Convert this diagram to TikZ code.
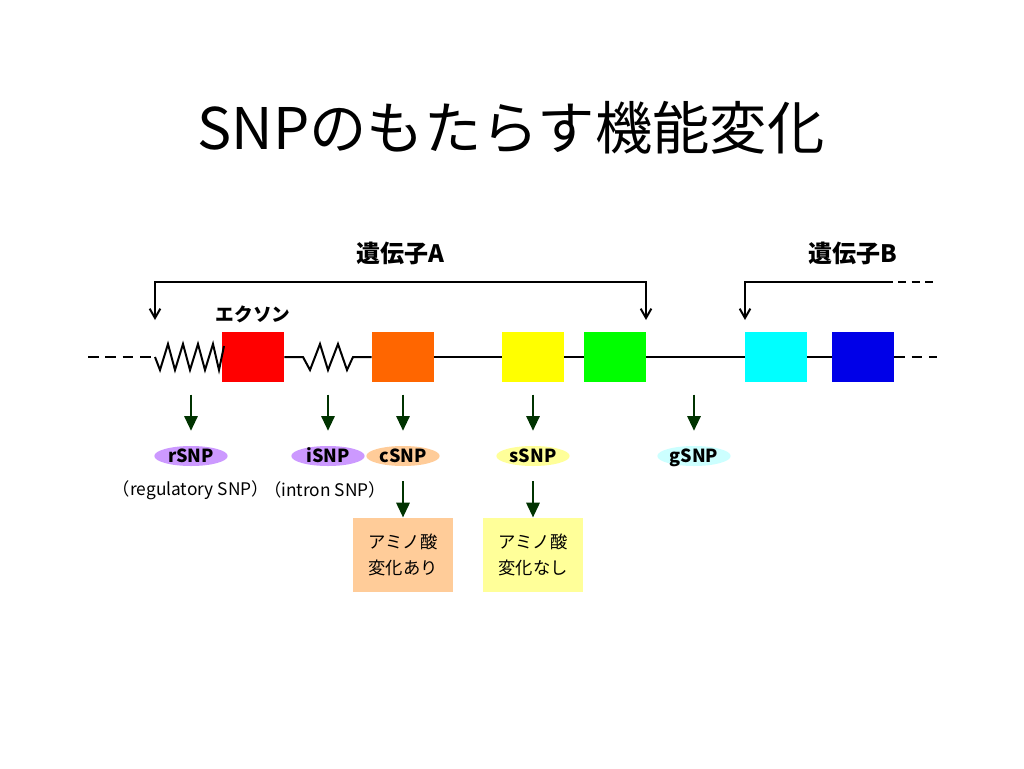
\documentclass[tikz,border=0pt]{standalone}
\usepackage{fontspec}
\setmainfont{Noto Sans CJK JP}
\usetikzlibrary{arrows.meta,shapes.geometric}

\definecolor{exRed}{HTML}{FF0000}
\definecolor{exOrange}{HTML}{FF6600}
\definecolor{exYellow}{HTML}{FFFF00}
\definecolor{exGreen}{HTML}{00FF00}
\definecolor{exCyan}{HTML}{00FFFF}
\definecolor{exBlue}{HTML}{0000E8}
\definecolor{snpViolet}{HTML}{CC99FF}
\definecolor{snpPeach}{HTML}{FFCC99}
\definecolor{snpLemon}{HTML}{FFFF99}
\definecolor{snpIce}{HTML}{CCFFFF}
\definecolor{arrowGreen}{HTML}{003300}

\tikzset{
  exon/.style={draw=none,inner sep=0,minimum width=46.5pt,minimum height=37.5pt},
  snp/.style={ellipse,draw=none,inner sep=0,minimum width=55pt,minimum height=15pt,
    text height=9.5pt,text depth=0pt,font=\fontsize{13.5}{15}\selectfont\bfseries},
  effect/.style={draw=none,inner sep=0,minimum width=75pt,minimum height=56pt,
    align=center,font=\fontsize{13}{20}\selectfont},
  genelabel/.style={inner sep=0.75pt,font=\fontsize{18}{20}\selectfont\bfseries},
  note/.style={inner sep=0.75pt,font=\fontsize{13}{15}\selectfont},
  dna/.style={line width=1.5pt},
  barb/.tip={Straight Barb[length=7pt,width=8pt,line width=1.5pt]},
  startarrow/.style={line width=1.5pt},
  snparrow/.style={line width=1.5pt,draw=arrowGreen,-{Triangle[length=11pt,width=10pt,fill=arrowGreen]}}
}

\begin{document}
\begin{tikzpicture}[x=0.75pt,y=0.75pt,yscale=-1,xscale=1]
        %set diagram to the slide size
        \path[fill=white] (0,0) rectangle (1024,768);

        % Title
        \draw (511,128) node [inner sep=0.75pt] (title) {\fontsize{43}{50}\selectfont SNPのもたらす機能変化};

        %Shape: Rectangle (exons)
        \node [exon,fill=exRed]    (ex1) at (253,357) {};
        \node [exon,fill=exOrange] (ex2) at (403,357) {};
        \node [exon,fill=exYellow] (ex3) at (533,357) {};
        \node [exon,fill=exGreen]  (ex4) at (615,357) {};
        \node [exon,fill=exCyan]   (ex5) at (776,357) {};
        \node [exon,fill=exBlue]   (ex6) at (863,357) {};

        % DNA strand
        \coordinate (dnaL) at (88,357);
        \coordinate (promA) at (155,357);
        \coordinate (intron1) at (303,357);
        \coordinate (intron2) at (353,357);
        \coordinate (dnaR) at (937,357);
        \draw [dna,dash pattern={on 8pt off 5pt}] (dnaL) -- (promA);
        \draw [dna] (promA) -- (160,370) -- (168,344) -- (175,370) -- (183,344) -- (190,370)
          -- (198,344) -- (205,370) -- (213,344) -- (219,370) -- (224,346);
        \draw [dna] (ex1.east) -- (intron1) -- (310,370) -- (320,344) -- (328,370) -- (338,344)
          -- (347,370) -- (intron2) -- (ex2.west);
        \draw [dna] (ex2.east) -- (ex3.west);
        \draw [dna] (ex3.east) -- (ex4.west);
        \draw [dna] (ex4.east) -- (ex5.west);
        \draw [dna] (ex5.east) -- (ex6.west);
        \draw [dna,dash pattern={on 8pt off 5pt}] (ex6.east) -- (dnaR);

        % Gene brackets
        \coordinate (geneAs) at (155,282);
        \coordinate (geneAe) at (646,282);
        \coordinate (geneBs) at (745,282);
        \coordinate (geneBe) at (885,282);
        \coordinate (geneBd) at (937,282);
        \draw [startarrow,barb-barb] (155,320) -- (geneAs) -- (geneAe) -- (646,320);
        \draw [startarrow,-barb] (geneBe) -- (geneBs) -- (745,320);
        \draw [dna,dash pattern={on 6pt off 4pt}] (geneBe) -- (geneBd);

        % Text Node
        \draw (400,253) node [genelabel] (geneA) {遺伝子A};
        % Text Node
        \draw (853,253) node [genelabel] (geneB) {遺伝子B};
        % Text Node
        \draw (253,314) node [genelabel,font=\fontsize{14}{16}\selectfont\bfseries] (exonlbl) {エクソン};

        % SNP ellipses
        \node [snp,fill=snpViolet] (rsnp) at (191,456) {rSNP};
        \node [snp,fill=snpViolet] (isnp) at (328,456) {iSNP};
        \node [snp,fill=snpPeach]  (csnp) at (403,456) {cSNP};
        \node [snp,fill=snpLemon]  (ssnp) at (533,456) {sSNP};
        \node [snp,fill=snpIce]    (gsnp) at (694,456) {gSNP};

        % Text Node
        \draw (191,490) node [note] (rnote) {（regulatory SNP）};
        % Text Node
        \draw (325,490) node [note] (inote) {（intron SNP）};

        % Effect boxes
        \node [effect,fill=snpPeach] (aaYes) at (403,555) {アミノ酸\\変化あり};
        \node [effect,fill=snpLemon] (aaNo)  at (533,555) {アミノ酸\\変化なし};

        % SNP arrows
        \draw [snparrow] (rsnp.north) ++(0,-51) -- ++(0,36);
        \draw [snparrow] (isnp.north) ++(0,-51) -- ++(0,36);
        \draw [snparrow] (csnp.north) ++(0,-51) -- ++(0,36);
        \draw [snparrow] (ssnp.north) ++(0,-51) -- ++(0,36);
        \draw [snparrow] (gsnp.north) ++(0,-51) -- ++(0,36);
        \draw [snparrow] (csnp.south) ++(0,15) -- (aaYes.north);
        \draw [snparrow] (ssnp.south) ++(0,15) -- (aaNo.north);
\end{tikzpicture}
\end{document}
